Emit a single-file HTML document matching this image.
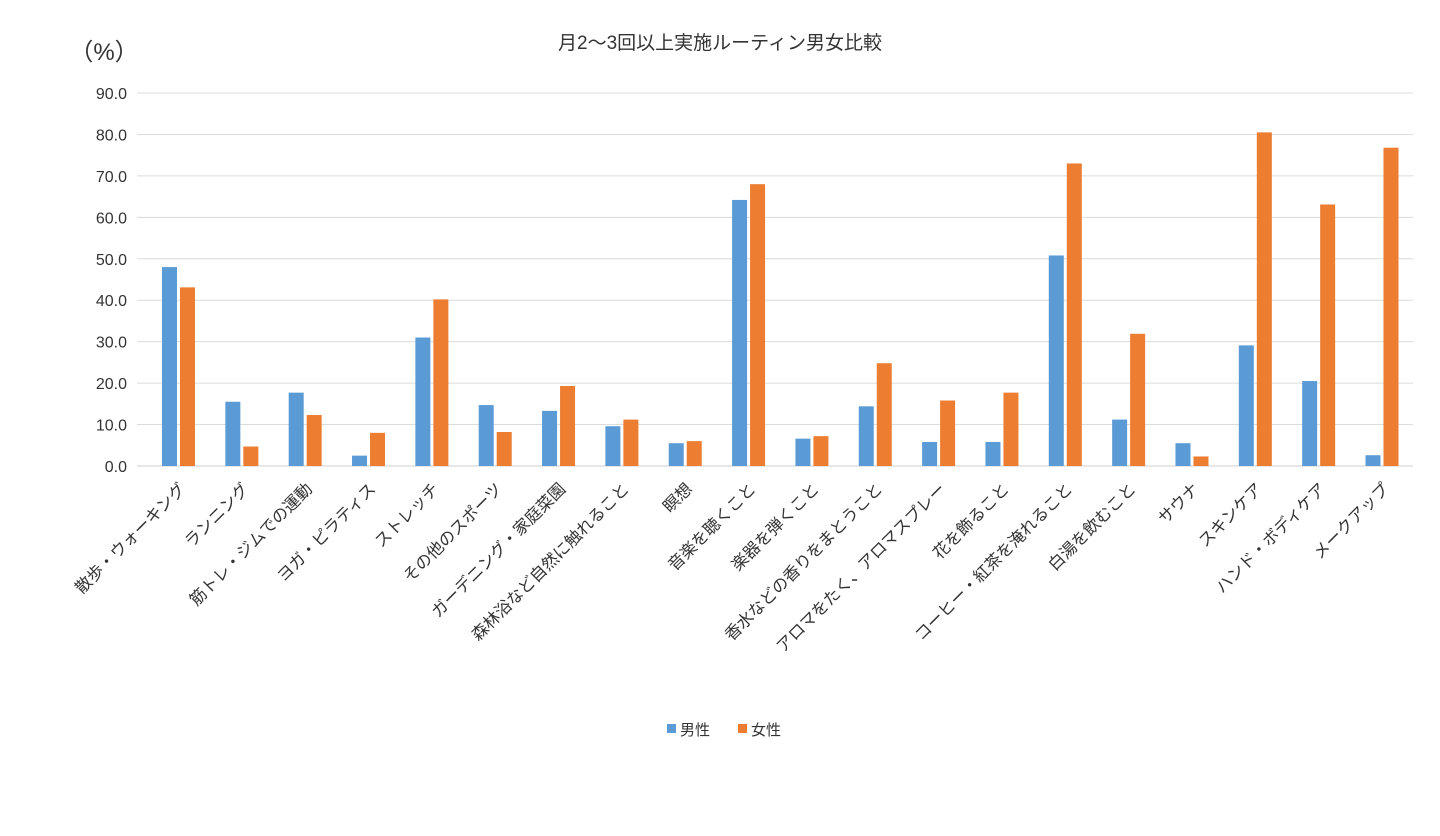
<!DOCTYPE html>
<html><head><meta charset="utf-8"><style>
body{margin:0;background:#fff;}
svg text{font-family:"Liberation Sans","Noto Sans CJK JP",sans-serif;fill:#333;}
</style></head><body>
<svg id="chart" width="1440" height="831" xmlns="http://www.w3.org/2000/svg">
<text x="720" y="49" text-anchor="middle" font-size="19">月2〜3回以上実施ルーティン男女比較</text>
<text x="104" y="60" text-anchor="middle" font-size="24">（%）</text>
<g id="grid"></g><g id="bars"></g><g id="labels"></g>
<g>
<rect x="667" y="724" width="9" height="9" fill="#5B9BD5"/>
<text x="680" y="735" font-size="15">男性</text>
<rect x="738" y="724" width="9" height="9" fill="#ED7D31"/>
<text x="751" y="735" font-size="15">女性</text>
</g>
</svg>
<script>
const categories=["散歩・ウォーキング","ランニング","筋トレ・ジムでの運動","ヨガ・ピラティス","ストレッチ","その他のスポーツ","ガーデニング・家庭菜園","森林浴など自然に触れること","瞑想","音楽を聴くこと","楽器を弾くこと","香水などの香りをまとうこと","アロマをたく、アロマスプレー","花を飾ること","コーヒー・紅茶を淹れること","白湯を飲むこと","サウナ","スキンケア","ハンド・ボディケア","メークアップ"];
const maleValues=[48.0,15.5,17.7,2.5,31.0,14.7,13.3,9.6,5.5,64.2,6.6,14.4,5.8,5.8,50.8,11.2,5.5,29.1,20.5,2.6];
const femaleValues=[43.1,4.7,12.3,8.0,40.2,8.2,19.3,11.2,6.0,68.0,7.2,24.8,15.8,17.7,73.0,31.9,2.3,80.5,63.1,76.8];
const yTicks=[0,10,20,30,40,50,60,70,80,90];
const NS="http://www.w3.org/2000/svg";
const x0=137,x1=1413,yBase=466,yTop=93,yMax=90;
const firstC=178.5,lastC=1382;
const y=v=>yBase-(v/yMax)*(yBase-yTop);
const step=(lastC-firstC)/(categories.length-1);
const xc=i=>firstC+step*i;
function mk(tag,attrs,parent){const e=document.createElementNS(NS,tag);for(const k in attrs)e.setAttribute(k,attrs[k]);parent.appendChild(e);return e;}
const grid=document.getElementById('grid'),bars=document.getElementById('bars'),labels=document.getElementById('labels');
yTicks.forEach(t=>{
 const l=mk('line',{x1:x0,x2:x1,y1:y(t),y2:y(t),stroke:t===0?'#cfcfcf':'#dcdcdc','stroke-width':1},grid);
 
 
 const tx=mk('text',{x:127,y:y(t)+6,'text-anchor':'end','font-size':16},grid);
 tx.textContent=t.toFixed(1);
 
 
});
const bw=15;
categories.forEach((c,i)=>{
 const m=mk('rect',{x:xc(i)-bw-1.5,y:y(maleValues[i]),width:bw,height:yBase-y(maleValues[i]),fill:'#5B9BD5'},bars);
 
 
 const f=mk('rect',{x:xc(i)+1.5,y:y(femaleValues[i]),width:bw,height:yBase-y(femaleValues[i]),fill:'#ED7D31'},bars);
 
 
 const lx=xc(i)+8,ly=490;
 const t=mk('text',{x:lx,y:ly,'text-anchor':'end','font-size':16.5,transform:`rotate(-45 ${lx} ${ly})`},labels);
 t.textContent=c;
 
 
});
</script>
</body></html>
